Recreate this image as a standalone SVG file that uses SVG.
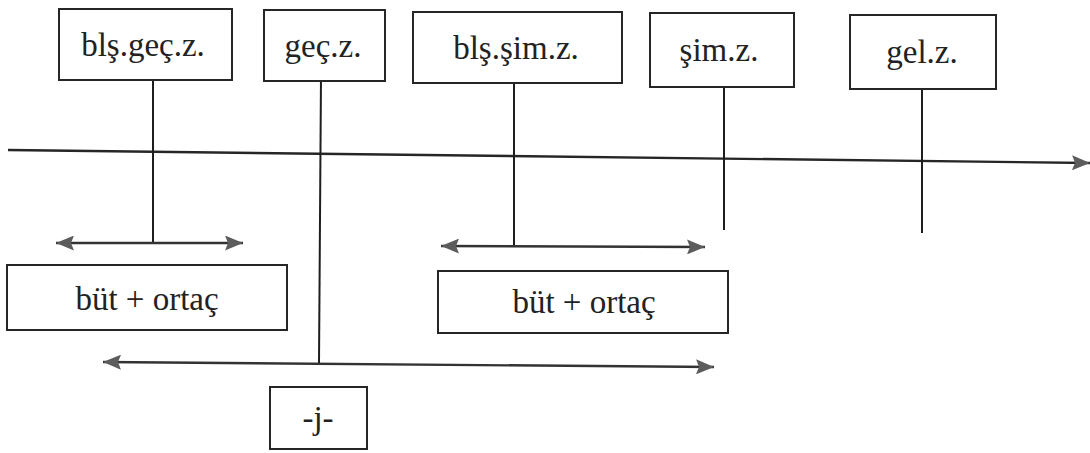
<svg xmlns="http://www.w3.org/2000/svg" width="1090" height="453" viewBox="0 0 1090 453">
  <style>
    .box { fill: #ffffff; stroke: #262626; stroke-width: 2; }
    .lbl { font-family: "Liberation Serif", "Times New Roman", serif; font-size: 33px; fill: #222222; text-anchor: middle; }
    .ln { stroke: #1e1e1e; stroke-width: 2; fill: none; }
    .arr { stroke: #333333; stroke-width: 2.4; fill: none; marker-start: url(#head); marker-end: url(#head); }
    .axis { stroke: #262626; stroke-width: 2.4; fill: none; marker-end: url(#head); }
  </style>
  <defs>
    <marker id="head" viewBox="0 0 18 15" refX="18" refY="7.5" markerWidth="18" markerHeight="15" markerUnits="userSpaceOnUse" orient="auto-start-reverse">
      <path d="M0,0 L18,7.5 L0,15 L3,7.5 z" fill="#5c5c5c"/>
    </marker>
  </defs>
  <rect width="1090" height="453" fill="#ffffff"/>

  <g id="connectors">
    <line id="time-axis" class="axis" x1="8" y1="150" x2="1090" y2="163"/>
    <line class="ln" x1="153" y1="80" x2="153" y2="243"/>
    <line class="ln" x1="321" y1="76" x2="319" y2="363"/>
    <line class="ln" x1="514" y1="78" x2="514" y2="247"/>
    <line class="ln" x1="724" y1="87" x2="724" y2="230"/>
    <line class="ln" x1="922" y1="89" x2="922" y2="233"/>
    <line class="arr" x1="56" y1="243" x2="243" y2="243"/>
    <line class="arr" x1="441" y1="246" x2="705" y2="247"/>
    <line class="arr" x1="103" y1="362" x2="714" y2="367"/>
  </g>

  <g id="bls-gec-z">
    <rect class="box" x="59" y="9" width="173" height="71"/>
    <text class="lbl" x="143" y="56">blş.geç.z.</text>
  </g>
  <g id="gec-z">
    <rect class="box" x="264" y="10" width="121" height="71"/>
    <text class="lbl" x="323" y="57">geç.z.</text>
  </g>
  <g id="bls-sim-z">
    <rect class="box" x="413" y="12" width="209" height="71"/>
    <text class="lbl" x="516" y="59">blş.şim.z.</text>
  </g>
  <g id="sim-z">
    <rect class="box" x="650" y="13" width="144" height="74"/>
    <text class="lbl" x="719" y="61">şim.z.</text>
  </g>
  <g id="gel-z">
    <rect class="box" x="850" y="15" width="146" height="74"/>
    <text class="lbl" x="922" y="63">gel.z.</text>
  </g>
  <g id="but-ortac-1">
    <rect class="box" x="7" y="265" width="280" height="65"/>
    <text class="lbl" x="147" y="310">büt + ortaç</text>
  </g>
  <g id="but-ortac-2">
    <rect class="box" x="438" y="271" width="290" height="62"/>
    <text class="lbl" x="584" y="313">büt + ortaç</text>
  </g>
  <g id="j">
    <rect class="box" x="270" y="387" width="97" height="62"/>
    <text class="lbl" x="318" y="429">-j-</text>
  </g>
</svg>
